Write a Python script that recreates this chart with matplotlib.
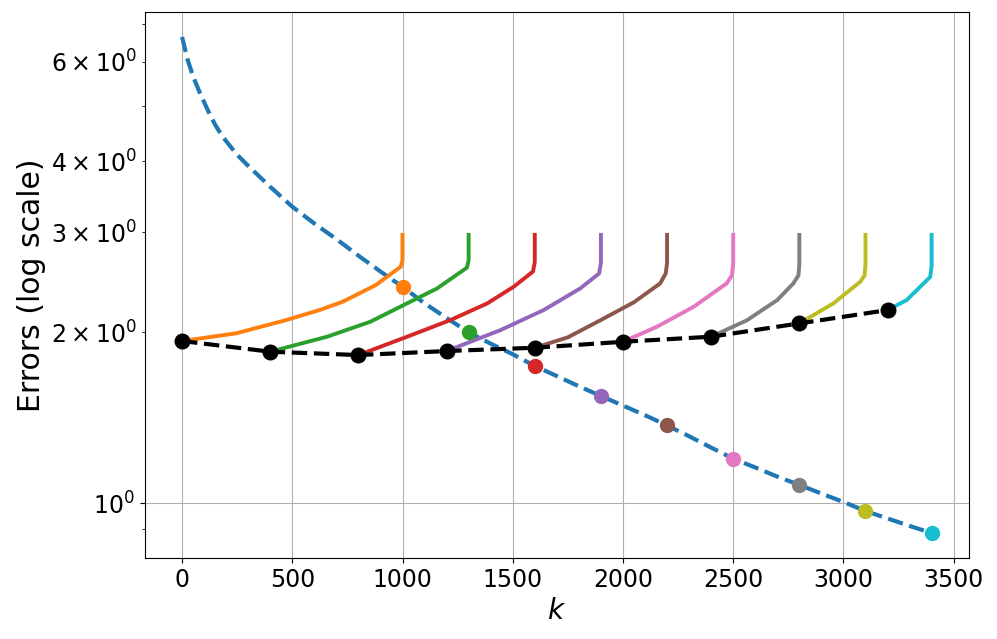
import matplotlib
matplotlib.use("Agg")
import matplotlib.pyplot as plt
import numpy as np

# Baseline error curve (blue dashed)
base_k = [0, 25, 50, 75, 100, 125, 150, 175, 200, 250, 300, 400, 500, 600, 700, 800, 900,
          1000, 1100, 1200, 1300, 1400, 1500, 1600, 1700, 1800, 1900, 2000, 2100, 2200,
          2300, 2400, 2500, 2600, 2700, 2800, 2900, 3000, 3100, 3200, 3300, 3400]
base_err = [6.63, 6.05, 5.65, 5.35, 5.09, 4.85, 4.645, 4.48, 4.345, 4.11, 3.93, 3.61, 3.33,
            3.11, 2.92, 2.73, 2.56, 2.406, 2.25, 2.12, 2.00, 1.91, 1.83, 1.745, 1.675,
            1.607, 1.545, 1.486, 1.429, 1.371, 1.312, 1.253, 1.198, 1.156, 1.114, 1.077,
            1.040, 1.005, 0.969, 0.940, 0.912, 0.886]

# Restart points (black dashed)
restart_k = [0, 400, 800, 1200, 1600, 2000, 2400, 2800, 3200]
restart_err = [1.931, 1.849, 1.824, 1.854, 1.879, 1.925, 1.965, 2.074, 2.189]

# Segment end points (markers on the baseline)
end_k = [1000, 1300, 1600, 1900, 2200, 2500, 2800, 3100, 3400]

# Individual segments
seg1_k = [0, 245, 472, 623, 728, 879, 992, 1000, 1000]
seg1_v = [1.931, 1.992, 2.102, 2.189, 2.264, 2.423, 2.61, 2.68, 2.97]
seg2_k = [400, 658, 854, 1005, 1157, 1292, 1300, 1300]
seg2_v = [1.849, 1.965, 2.088, 2.234, 2.39, 2.60, 2.68, 2.97]
seg3_k = [800, 1021, 1217, 1384, 1504, 1592, 1600, 1600]
seg3_v = [1.824, 1.965, 2.102, 2.249, 2.406, 2.56, 2.66, 2.97]
seg4_k = [1200, 1444, 1640, 1806, 1892, 1900, 1900]
seg4_v = [1.854, 2.018, 2.189, 2.39, 2.54, 2.65, 2.97]
seg5_k = [1600, 1750, 1897, 2050, 2169, 2194, 2200, 2200]
seg5_v = [1.879, 1.96, 2.10, 2.26, 2.44, 2.54, 2.65, 2.97]
seg6_k = [2000, 2154, 2320, 2471, 2494, 2500, 2500]
seg6_v = [1.925, 2.046, 2.218, 2.44, 2.52, 2.63, 2.97]
seg7_k = [2400, 2562, 2700, 2773, 2796, 2800, 2800]
seg7_v = [1.965, 2.10, 2.28, 2.44, 2.52, 2.63, 2.97]
seg8_k = [2800, 2955, 3076, 3096, 3100, 3100]
seg8_v = [2.074, 2.25, 2.455, 2.52, 2.63, 2.97]
seg9_k = [3200, 3287, 3378, 3394, 3400, 3400]
seg9_v = [2.189, 2.28, 2.47, 2.505, 2.62, 2.97]

segments = [(seg1_k, seg1_v), (seg2_k, seg2_v), (seg3_k, seg3_v), (seg4_k, seg4_v),
            (seg5_k, seg5_v), (seg6_k, seg6_v), (seg7_k, seg7_v), (seg8_k, seg8_v),
            (seg9_k, seg9_v)]

fig = plt.figure(figsize=(9.97, 6.39), dpi=100)
ax = fig.add_axes([0.145, 0.127, 0.827, 0.854])

ax.plot(base_k, base_err, '--', color='C0', lw=3)

base_lookup = dict(zip(base_k, base_err))
for i, (sk, sv) in enumerate(segments):
    col = f'C{i + 1}'
    ax.plot(sk, sv, '-', color=col, lw=2.8)
    ax.plot([end_k[i]], [base_lookup[end_k[i]]], 'o', color=col, ms=10, zorder=4)

ax.plot(restart_k, restart_err, '--o', color='black', lw=3, ms=10.5, zorder=5)

ax.set_yscale('log')
ax.grid(True)
ax.set_xlabel('$k$', fontsize=20)
ax.set_ylabel('Errors (log scale)', fontsize=21.5)
ax.tick_params(which='both', labelsize=17)

fig.savefig('out.png', dpi=100)
